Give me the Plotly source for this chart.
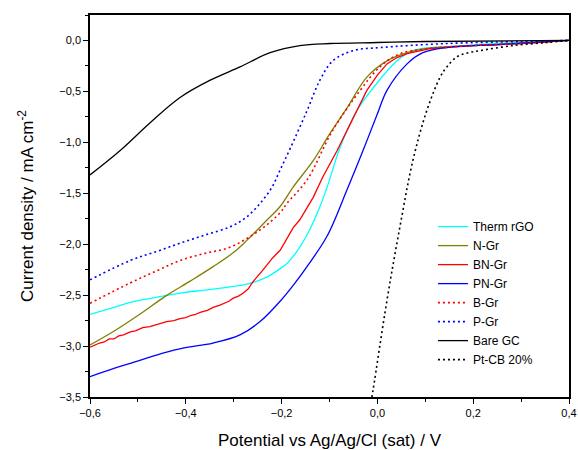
import plotly.graph_objects as go

# potential (V vs Ag/AgCl) and current density (mA cm-2)
therm_v = [-0.6, -0.55, -0.516, -0.46, -0.412, -0.36, -0.308, -0.27, -0.23, -0.203, -0.189, -0.168, -0.147, -0.125, -0.105, -0.078, -0.043, -0.001, 0.041, 0.074, 0.11, 0.15, 0.25, 0.4]
therm_j = [-2.69, -2.62, -2.57, -2.52, -2.48, -2.45, -2.42, -2.39, -2.32, -2.24, -2.19, -2.07, -1.91, -1.69, -1.44, -1.05, -0.69, -0.42, -0.20, -0.10, -0.07, -0.06, -0.03, 0.0]

ngr_v = [-0.6, -0.552, -0.5, -0.439, -0.39, -0.343, -0.3, -0.272, -0.23, -0.203, -0.176, -0.134, -0.1, -0.063, -0.022, 0.02, 0.062, 0.1, 0.2, 0.3, 0.4]
ngr_j = [-2.99, -2.86, -2.70, -2.50, -2.36, -2.22, -2.08, -1.96, -1.76, -1.63, -1.44, -1.18, -0.92, -0.66, -0.36, -0.20, -0.12, -0.08, -0.05, -0.03, 0.0]

bngr_v = [-0.6, -0.59, -0.58, -0.57, -0.56, -0.55, -0.54, -0.53, -0.516, -0.505, -0.49, -0.475, -0.46, -0.45, -0.44, -0.425, -0.412, -0.40, -0.39, -0.38, -0.37, -0.355, -0.343, -0.33, -0.32, -0.31, -0.301, -0.29, -0.28, -0.27, -0.26, -0.25, -0.24, -0.23, -0.218, -0.203, -0.19, -0.176, -0.162, -0.148, -0.134, -0.114, -0.084, -0.063, -0.04, -0.022, 0.0, 0.02, 0.04, 0.062, 0.11, 0.2, 0.3, 0.4]
bngr_j = [-3.01, -2.99, -2.97, -2.96, -2.93, -2.93, -2.90, -2.89, -2.86, -2.85, -2.82, -2.81, -2.79, -2.77, -2.76, -2.75, -2.73, -2.72, -2.70, -2.69, -2.67, -2.65, -2.62, -2.60, -2.58, -2.56, -2.53, -2.51, -2.48, -2.44, -2.37, -2.32, -2.26, -2.20, -2.13, -2.06, -1.95, -1.84, -1.76, -1.65, -1.54, -1.34, -1.08, -0.88, -0.67, -0.49, -0.34, -0.23, -0.17, -0.13, -0.08, -0.05, -0.03, 0.0]

pngr_v = [-0.6, -0.55, -0.516, -0.448, -0.406, -0.343, -0.287, -0.245, -0.203, -0.175, -0.147, -0.105, -0.063, -0.03, 0.0, 0.02, 0.062, 0.095, 0.145, 0.25, 0.4]
pngr_j = [-3.30, -3.22, -3.17, -3.07, -3.02, -2.97, -2.89, -2.76, -2.56, -2.40, -2.22, -1.92, -1.46, -1.08, -0.72, -0.49, -0.23, -0.12, -0.07, -0.04, 0.0]

bgr_v = [-0.6, -0.516, -0.46, -0.412, -0.36, -0.308, -0.245, -0.203, -0.189, -0.147, -0.093, -0.036, 0.005, 0.047, 0.11, 0.2, 0.3, 0.4]
bgr_j = [-2.58, -2.38, -2.26, -2.16, -2.09, -2.03, -1.86, -1.69, -1.60, -1.37, -0.88, -0.49, -0.26, -0.13, -0.08, -0.05, -0.03, 0.0]

pgr_v = [-0.6, -0.516, -0.46, -0.412, -0.36, -0.308, -0.275, -0.245, -0.22, -0.203, -0.182, -0.147, -0.12, -0.093, -0.051, 0.005, 0.145, 0.3, 0.4]
pgr_j = [-2.35, -2.16, -2.07, -1.99, -1.91, -1.83, -1.74, -1.60, -1.44, -1.27, -1.06, -0.69, -0.39, -0.20, -0.10, -0.07, -0.03, -0.01, 0.0]

bare_v = [-0.6, -0.537, -0.475, -0.412, -0.349, -0.287, -0.224, -0.162, -0.099, 0.0, 0.1, 0.4]
bare_j = [-1.32, -1.08, -0.81, -0.56, -0.39, -0.26, -0.12, -0.05, -0.03, -0.02, -0.01, 0.0]

pt_v = [-0.015, -0.009, 0.02, 0.047, 0.074, 0.103, 0.131, 0.145, 0.166, 0.19, 0.214, 0.283, 0.354, 0.4]
pt_j = [-3.6, -3.43, -2.55, -1.83, -1.18, -0.69, -0.36, -0.26, -0.16, -0.12, -0.10, -0.05, -0.02, 0.0]

DOTS = "2px,3px"
SERIES = [
    ("Therm rGO", therm_v, therm_j, "#00FFFF", "solid"),
    ("N-Gr", ngr_v, ngr_j, "#808000", "solid"),
    ("BN-Gr", bngr_v, bngr_j, "#FF0000", "solid"),
    ("PN-Gr", pngr_v, pngr_j, "#0000FF", "solid"),
    ("B-Gr", bgr_v, bgr_j, "#FF0000", DOTS),
    ("P-Gr", pgr_v, pgr_j, "#0000FF", DOTS),
    ("Bare GC", bare_v, bare_j, "#000000", "solid"),
    ("Pt-CB 20%", pt_v, pt_j, "#000000", DOTS),
]

fig = go.Figure()
for name, v, j, color, dash in SERIES:
    # the noisy BN-Gr trace is kept as straight segments
    shape = "linear" if name == "BN-Gr" else "spline"
    width = 1.3 if dash == "solid" else 1.6
    fig.add_trace(go.Scatter(
        x=v, y=j, mode="lines", name=name,
        line=dict(color=color, width=width, dash=dash, shape=shape),
    ))

FONT = "Liberation Sans, Arial"
axis_common = dict(
    showline=True, linecolor="black", linewidth=1.5, mirror=True,
    ticks="outside", ticklen=5, tickwidth=1.2, tickcolor="black",
    showgrid=False, zeroline=False, automargin=False,
    tickfont=dict(family=FONT, size=11, color="black"),
)

fig.update_xaxes(
    range=[-0.6, 0.4], dtick=0.2, tick0=-0.6, tickformat=".1f",
    minor=dict(dtick=0.1, ticks="outside", ticklen=3, tickcolor="black"),
    title=dict(text="Potential vs Ag/Ag/Cl (sat) / V", standoff=18,
               font=dict(family=FONT, size=17, color="black")),
    **axis_common,
)
fig.update_yaxes(
    range=[-3.5, 0.25], dtick=0.5, tick0=0, tickformat=".1f",
    minor=dict(dtick=0.25, ticks="outside", ticklen=3, tickcolor="black"),
    title=dict(text="Current density / mA cm<sup>-2</sup>", standoff=21,
               font=dict(family=FONT, size=17, color="black")),
    **axis_common,
)

fig.update_layout(
    width=578, height=450,
    separators=",.",
    plot_bgcolor="white", paper_bgcolor="white",
    margin=dict(l=90, r=9, t=15, b=53),
    legend=dict(
        x=0.716, y=0.484, xanchor="left", yanchor="top",
        bgcolor="rgba(0,0,0,0)", borderwidth=0,
        font=dict(family=FONT, size=12, color="black"),
        tracegroupgap=0,
    ),
)

# drop the default page margin so the figure sits at the window's corner
fig.write_html(
    "out.html",
    config={"displayModeBar": False},
    post_script="document.body.style.margin='0';document.body.style.overflow='hidden';",
)
